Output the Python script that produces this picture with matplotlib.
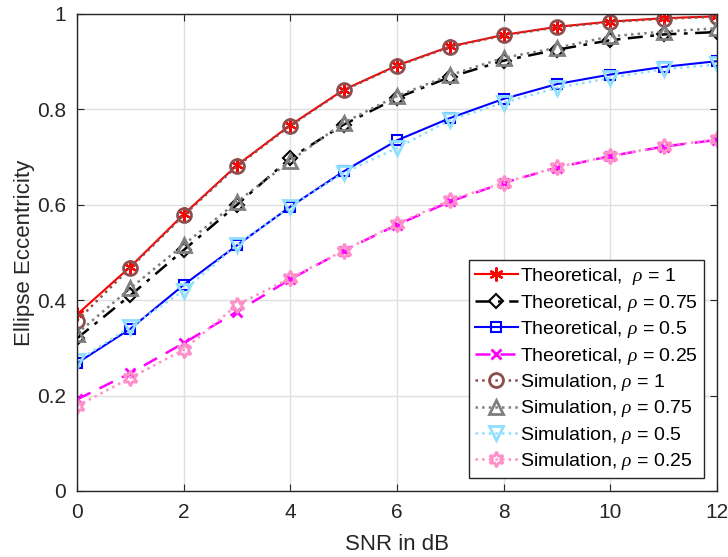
import matplotlib
matplotlib.use("Agg")
import matplotlib.pyplot as plt
import numpy as np

plt.rcParams['font.family'] = ['Liberation Sans', 'DejaVu Sans']
plt.rcParams['mathtext.fontset'] = 'custom'
plt.rcParams['mathtext.it'] = 'Liberation Serif:italic'

snr = [0, 1, 2, 3, 4, 5, 6, 7, 8, 9, 10, 11, 12]

theo_1 = [0.370, 0.470, 0.580, 0.683, 0.767, 0.841, 0.892, 0.932, 0.956, 0.973, 0.984, 0.991, 0.995]
theo_075 = [0.320, 0.410, 0.505, 0.600, 0.698, 0.768, 0.824, 0.868, 0.902, 0.925, 0.945, 0.957, 0.962]
theo_05 = [0.268, 0.340, 0.432, 0.515, 0.596, 0.670, 0.735, 0.782, 0.822, 0.853, 0.873, 0.889, 0.901]
theo_025 = [0.192, 0.247, 0.310, 0.376, 0.444, 0.504, 0.558, 0.607, 0.646, 0.678, 0.702, 0.722, 0.736]

sim_1 = [0.357, 0.468, 0.578, 0.681, 0.766, 0.840, 0.891, 0.931, 0.955, 0.972, 0.983, 0.990, 0.994]
sim_075 = [0.330, 0.425, 0.516, 0.606, 0.692, 0.772, 0.828, 0.872, 0.908, 0.929, 0.953, 0.963, 0.970]
sim_05 = [0.272, 0.344, 0.420, 0.516, 0.596, 0.667, 0.719, 0.778, 0.814, 0.845, 0.866, 0.884, 0.894]
sim_025 = [0.178, 0.237, 0.296, 0.390, 0.446, 0.504, 0.560, 0.610, 0.646, 0.679, 0.702, 0.723, 0.737]

labels_theo = ['Theoretical,  $\\rho$ = 1', 'Theoretical, $\\rho$ = 0.75',
               'Theoretical, $\\rho$ = 0.5', 'Theoretical, $\\rho$ = 0.25']
labels_sim = ['Simulation, $\\rho$ = 1', 'Simulation, $\\rho$ = 0.75',
              'Simulation, $\\rho$ = 0.5', 'Simulation, $\\rho$ = 0.25']

fig = plt.figure(figsize=(7.28, 5.57), dpi=100)
ax = fig.add_axes([0.1058, 0.1185, 0.8792, 0.8565])

hexagram = (6, 1, 0)
asterisk = (6, 2, 0)

ax.plot(snr, theo_1, color='#FF0000', ls='-', lw=1.5, marker=asterisk, ms=10, mfc='none', mew=1.6, label=labels_theo[0])
ax.plot(snr, theo_075, color='#000000', ls=(0, (6, 3, 1.5, 3)), lw=1.8, marker='D', ms=7, mfc='none', mew=1.5, label=labels_theo[1])
ax.plot(snr, theo_05, color='#0000FF', ls='-', lw=1.5, marker='s', ms=7, mfc='none', mew=1.5, label=labels_theo[2])
ax.plot(snr, theo_025, color='#FF00FF', ls=(0, (6, 4)), lw=1.8, marker='x', ms=7, mfc='none', mew=2, label=labels_theo[3])

ax.plot(snr, sim_1, color='#8C4F4F', ls=':', lw=1.8, marker='o', ms=10, mfc='none', mew=2, label=labels_sim[0])
ax.plot(snr, sim_075, color='#7F7F7F', ls=':', lw=1.8, marker='^', ms=10, mfc='none', mew=2, label=labels_sim[1])
ax.plot(snr, sim_05, color='#8FDFFF', ls=':', lw=1.8, marker='v', ms=10, mfc='none', mew=2, label=labels_sim[2])
ax.plot(snr, sim_025, color='#FF8FC8', ls=':', lw=1.8, marker=hexagram, ms=11, mfc='none', mew=2, label=labels_sim[3])

ax.set_xlim(0, 12)
ax.set_ylim(0, 1)
ax.set_xticks([0, 2, 4, 6, 8, 10, 12])
ax.set_yticks([0, 0.2, 0.4, 0.6, 0.8, 1.0])
ax.set_yticklabels(['0', '0.2', '0.4', '0.6', '0.8', '1'])
ax.grid(True, color='#DFDFDF', lw=1)
ax.set_axisbelow(True)
for s in ax.spines.values():
    s.set_color('#262626')
    s.set_linewidth(1)
ax.tick_params(direction='in', length=5, top=True, right=True, labelsize=15, colors='#262626', pad=8)
ax.tick_params(axis='x', pad=9)
ax.set_xlabel('SNR in dB', fontsize=16, color='#262626', labelpad=8)
ax.set_ylabel('Ellipse Eccentricity', fontsize=16, color='#262626', labelpad=1)

leg = ax.legend(loc='lower right', bbox_to_anchor=(0.98, 0.027), fontsize=14,
                handlelength=2.2, handletextpad=0.15, borderpad=0.3, labelspacing=0.28,
                borderaxespad=0, fancybox=False, framealpha=1, edgecolor='#262626')
leg.get_frame().set_linewidth(1)

fig.savefig('out.png', dpi=100)
